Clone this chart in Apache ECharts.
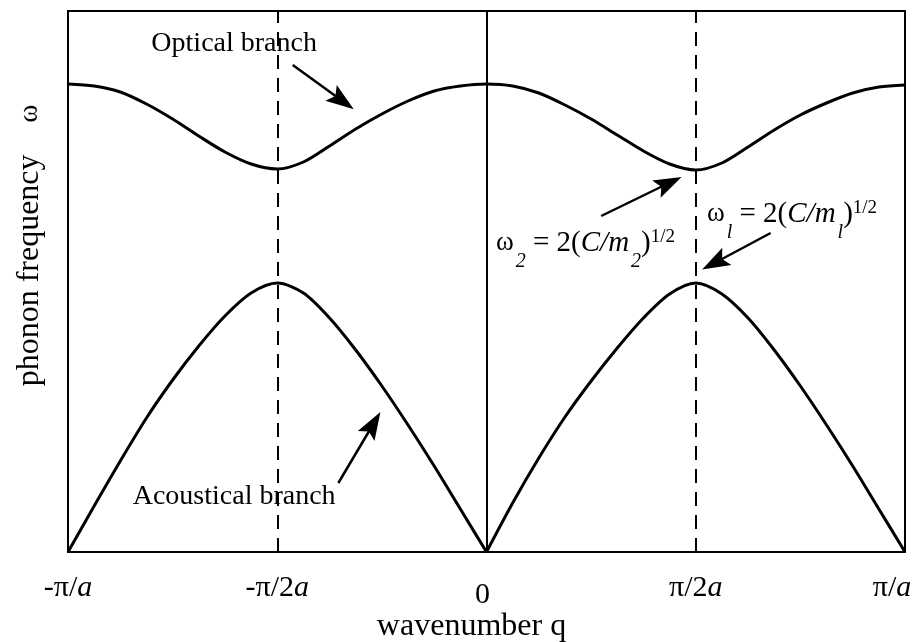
<!DOCTYPE html>
<html>
<head>
<meta charset="utf-8">
<script src="https://cdn.jsdelivr.net/npm/echarts@6/dist/echarts.min.js"></script>
<style>
  html, body { margin: 0; padding: 0; background: #fff; }
  #chart { width: 917px; height: 642px; }
</style>
</head>
<body>
<div id="chart"></div>
<script>
// Wavenumber q, in units of pi/a, across the plotted range
const qValues = [
  -1, -0.9375, -0.875, -0.8125, -0.75, -0.6875, -0.625, -0.5625, -0.5,
  -0.4375, -0.375, -0.3125, -0.25, -0.1875, -0.125, -0.0625, 0,
  0.0625, 0.125, 0.1875, 0.25, 0.3125, 0.375, 0.4375, 0.5,
  0.5625, 0.625, 0.6875, 0.75, 0.8125, 0.875, 0.9375, 1
];

// Phonon frequency (arbitrary units) of the optical branch
const opticalBranch = [
  468, 466, 460, 448, 433, 416, 400, 388, 383,
  390, 406, 423, 438, 451, 461, 466, 468,
  466, 459, 447, 433, 417, 401, 388, 382,
  389, 405, 422, 437, 449, 459, 465, 467
];

// Phonon frequency (arbitrary units) of the acoustical branch
const acousticalBranch = [
  0, 46, 91, 134, 172, 206, 236, 259, 269,
  259, 234, 202, 166, 127, 86, 43, 0,
  49, 94, 135, 171, 204, 234, 258, 269,
  258, 234, 202, 166, 127, 86, 43, 0
];

// Axis ticks along q
const tickValues = [-1, -0.5, 0, 0.5, 1];
const tickLabels = ['-π/a', '-π/2a', '0', 'π/2a', 'π/a'];

// Zone-boundary guides and the zone centre
const zoneBoundaries = [-0.5, 0.5];
const zoneCentre = 0;

const SERIF = '"Liberation Serif", "Times New Roman", serif';
const FREQ_MAX = 541;

const chart = echarts.init(document.getElementById('chart'), null, { renderer: 'canvas' });

// [q, omega] pairs for indices from..to (inclusive)
function pairs(ys, from, to) {
  const out = [];
  for (let i = from; i <= to; i++) out.push([qValues[i], ys[i]]);
  return out;
}

function tickFormatter(v) {
  const k = tickValues.indexOf(v);
  if (k < 0) return '';
  const s = tickLabels[k];
  if (!s.endsWith('a')) return '{z|' + s + '}';
  const last = k === tickValues.length - 1;
  return '{n|' + s.slice(0, -1) + '}{' + (last ? 'ri' : 'ni') + '|a}';
}

// Annotation arrow: plain line from the tail, filled head centred on `head`
function arrow(tail, head) {
  return [
    { coord: tail, symbol: 'none', lineStyle: { type: 'solid', width: 2.5, color: '#000' } },
    { coord: head, symbol: 'path://M0,0 L9,26 L0,21 L-9,26 Z', symbolSize: 28, symbolKeepAspect: true }
  ];
}

const formulaRich = {
  w: { fontFamily: SERIF, fontSize: 27, color: '#000' },
  sb: { fontFamily: SERIF, fontSize: 20, fontStyle: 'italic', color: '#000', padding: [38, 0, 0, 2] },
  t: { fontFamily: SERIF, fontSize: 29, color: '#000' },
  ti: { fontFamily: SERIF, fontSize: 29, fontStyle: 'italic', color: '#000' },
  sp: { fontFamily: SERIF, fontSize: 19, color: '#000', padding: [0, 0, 12, 0] }
};

const curveStyle = { color: '#000', width: 3 };

const option = {
  animation: false,
  backgroundColor: '#fff',
  grid: {
    left: 68, right: 12, top: 11, bottom: 90,
    outerBoundsMode: 'none',
    containLabel: false,
    show: true, borderColor: '#000', borderWidth: 2, backgroundColor: 'transparent'
  },
  xAxis: {
    type: 'value',
    min: -1, max: 1, interval: 0.5,
    axisLine: { show: true, lineStyle: { color: '#000', width: 2 } },
    axisTick: { show: false },
    splitLine: { show: false },
    axisLabel: {
      margin: 21,
      showMinLabel: true, showMaxLabel: true,
      formatter: tickFormatter,
      rich: {
        n: { fontFamily: SERIF, fontSize: 30, color: '#000' },
        ni: { fontFamily: SERIF, fontSize: 30, fontStyle: 'italic', color: '#000' },
        ri: { fontFamily: SERIF, fontSize: 30, fontStyle: 'italic', color: '#000', padding: [0, 26, 0, 0] },
        z: { fontFamily: SERIF, fontSize: 30, color: '#000', padding: [7, 8, 0, 0] }
      }
    },
    name: 'wavenumber q',
    nameLocation: 'middle',
    nameGap: 59,
    nameMoveOverlap: false,
    nameTextStyle: { fontFamily: SERIF, fontSize: 32, color: '#000', padding: [0, 30, 0, 0] }
  },
  yAxis: {
    type: 'value',
    min: 0, max: FREQ_MAX,
    axisLine: { show: true, lineStyle: { color: '#000', width: 2 } },
    axisTick: { show: false },
    axisLabel: { show: false },
    splitLine: { show: false },
    name: '{t|phonon frequency}{w|ω}',
    nameLocation: 'middle',
    nameRotate: 90,
    nameGap: 22,
    nameMoveOverlap: false,
    nameTextStyle: {
      padding: [0, 0, 0, 72],
      rich: {
        t: { fontFamily: SERIF, fontSize: 32, color: '#000' },
        w: { fontFamily: SERIF, fontSize: 27, color: '#000', padding: [0, 0, 0, 32] }
      }
    }
  },
  series: [
    {
      name: 'Optical branch',
      type: 'line',
      data: pairs(opticalBranch, 0, qValues.length - 1),
      showSymbol: false,
      smooth: 0.3,
      lineStyle: curveStyle,
      silent: true,
      markLine: {
        silent: true,
        symbol: 'none',
        label: { show: false },
        lineStyle: { color: '#000', width: 2, type: 'solid' },
        data: [
          ...zoneBoundaries.map(q => ({ xAxis: q, lineStyle: { type: [14, 9], width: 2, color: '#000' } })),
          { xAxis: zoneCentre, lineStyle: { type: 'solid', width: 1.5, color: '#000' } },
          arrow([-0.463, 487], [-0.3443, 451]),
          arrow([-0.354, 69], [-0.2705, 128]),
          arrow([0.274, 336], [0.4361, 369]),
          arrow([0.679, 319], [0.5448, 289])
        ]
      },
      markPoint: {
        silent: true,
        symbol: 'circle',
        symbolSize: 1,
        itemStyle: { color: 'rgba(0,0,0,0)' },
        label: { show: true, position: 'inside', color: '#000', fontFamily: SERIF, fontSize: 28 },
        data: [
          { coord: [-0.603, 508], label: { formatter: 'Optical branch' } },
          { coord: [-0.603, 55], label: { formatter: 'Acoustical branch' } },
          { coord: [0.2366, 309], label: { formatter: '{w|ω}{sb|2}{t| = 2(}{ti|C/m}{sb|2}{t|)}{sp|1/2}', rich: formulaRich } },
          { coord: [0.730, 338], label: { formatter: '{w|ω}{sb|l}{t| = 2(}{ti|C/m}{sb|l}{t|)}{sp|1/2}', rich: formulaRich } }
        ]
      }
    },
    {
      name: 'Acoustical branch',
      type: 'line',
      data: pairs(acousticalBranch, 0, 16),
      showSymbol: false,
      smooth: 0.3,
      lineStyle: curveStyle,
      silent: true
    },
    {
      name: 'Acoustical branch',
      type: 'line',
      data: pairs(acousticalBranch, 16, qValues.length - 1),
      showSymbol: false,
      smooth: 0.3,
      lineStyle: curveStyle,
      silent: true
    }
  ]
};

chart.setOption(option);
</script>
</body>
</html>
